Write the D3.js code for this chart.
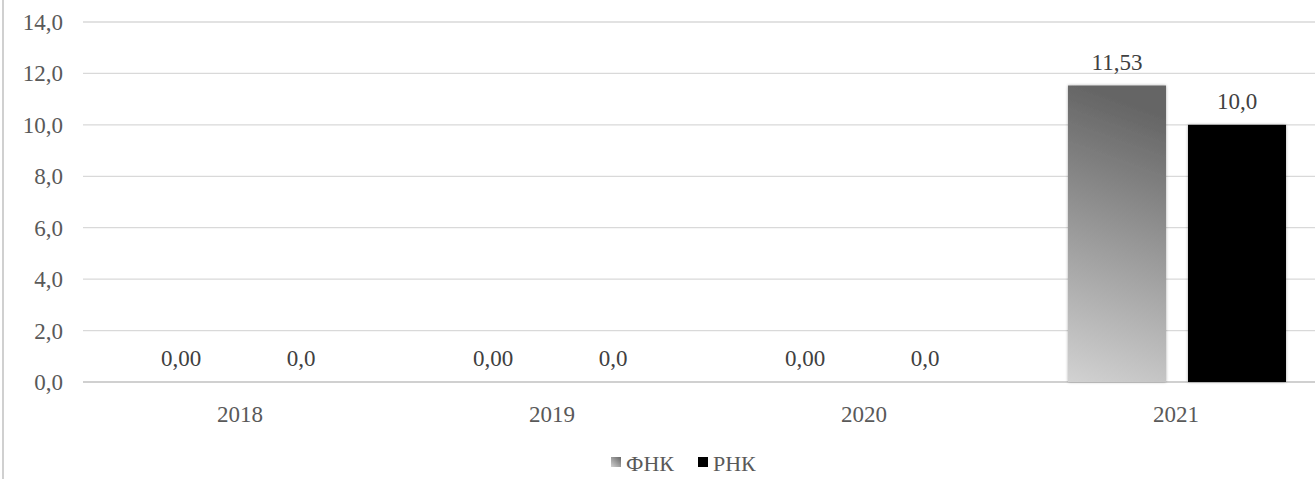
<!DOCTYPE html>
<html><head><meta charset="utf-8">
<script src="https://cdn.jsdelivr.net/npm/d3@7"></script>
<style>body{margin:0;background:#fff}svg{display:block}</style>
</head><body>
<svg id="c" width="1315" height="479"></svg>
<script>
const categories = ["2018","2019","2020","2021"];
const seriesNames = ["ФНК","РНК"];
const fnk = [0.00, 0.00, 0.00, 11.53];
const rnk = [0.0, 0.0, 0.0, 10.0];
const yTicks = [0,2,4,6,8,10,12,14];

const svg = d3.select("#c");
const font = "Liberation Serif, DejaVu Serif, serif";
const fs = 23;
const x = d3.scaleBand().domain(categories).range([84,1332]);
const y = d3.scaleLinear().domain([0,14]).range([382,22]);

const defs = svg.append("defs");
const g1 = defs.append("linearGradient").attr("id","gf").attr("x1","0").attr("y1","1").attr("x2","0.12").attr("y2","0");
g1.append("stop").attr("offset","0").attr("stop-color","#d2d2d2");
g1.append("stop").attr("offset","1").attr("stop-color","#656565");
const gl = defs.append("linearGradient").attr("id","gl").attr("x1","0").attr("y1","1").attr("x2","1").attr("y2","0");
gl.append("stop").attr("offset","0").attr("stop-color","#d2d2d2");
gl.append("stop").attr("offset","1").attr("stop-color","#666666");
const f = defs.append("filter").attr("id","sh").attr("x","-10%").attr("y","-10%").attr("width","120%").attr("height","120%");
f.append("feGaussianBlur").attr("in","SourceAlpha").attr("stdDeviation","1.5").attr("result","b");
f.append("feComponentTransfer").attr("in","b").attr("result","o2").append("feFuncA").attr("type","linear").attr("slope","0.35");
const m = f.append("feMerge"); m.append("feMergeNode").attr("in","o2"); m.append("feMergeNode").attr("in","SourceGraphic");

// left border
svg.append("line").attr("x1",3).attr("x2",3).attr("y1",0).attr("y2",479).attr("stroke","#d0d0d0").attr("stroke-width",2);

// grid
svg.append("g").selectAll("line").data(yTicks).join("line")
  .attr("x1",83).attr("x2",1315).attr("y1",d=>y(d)).attr("y2",d=>y(d))
  .attr("stroke",d=>d===0?"#d0d0d0":"#d9d9d9").attr("stroke-width",d=>d===0?2:1.3);

// y tick labels
svg.append("g").selectAll("text").data(yTicks).join("text")
  .attr("x",63).attr("y",d=>y(d)).attr("dy","0.35em").attr("text-anchor","end")
  .attr("font-family",font).attr("font-size",fs).attr("fill","#595959")
  .text(d=>d.toFixed(1).replace(".",","));

// x labels
svg.append("g").selectAll("text").data(categories).join("text")
  .attr("x",d=>x(d)+x.bandwidth()/2).attr("y",414).attr("dy","0.35em").attr("text-anchor","middle")
  .attr("font-family",font).attr("font-size",fs).attr("fill","#595959").text(d=>d);

const bw = 98, off = [-59, 61];
const series = [
  {name:seriesNames[0], vals:fnk, fill:"url(#gf)", dec:2},
  {name:seriesNames[1], vals:rnk, fill:"#000", dec:1}
];
series.forEach((s,si)=>{
  const gs = svg.append("g");
  gs.selectAll("rect").data(categories).join("rect")
    .attr("x",(c)=>x(c)+x.bandwidth()/2+off[si]-bw/2)
    .attr("y",(c,i)=>y(s.vals[i])).attr("width",bw)
    .attr("height",(c,i)=>y(0)-y(s.vals[i])).attr("fill",s.fill)
    .attr("filter","url(#sh)");
  gs.selectAll("text").data(categories).join("text")
    .attr("x",(c,i)=>x(c)+x.bandwidth()/2+off[si])
    .attr("y",(c,i)=>y(s.vals[i])-24).attr("dy","0.35em").attr("text-anchor","middle")
    .attr("font-family",font).attr("font-size",fs).attr("fill","#404040")
    .text((c,i)=>s.vals[i].toFixed(s.dec).replace(".",","));
});

// legend
const leg = svg.append("g");
const items = [{n:seriesNames[0],fill:"url(#gl)",x:611},{n:seriesNames[1],fill:"#000",x:698}];
items.forEach(it=>{
  leg.append("rect").attr("x",it.x).attr("y",457).attr("width",10).attr("height",10).attr("fill",it.fill);
  leg.append("text").attr("x",it.x+15).attr("y",463).attr("dy","0.35em")
    .attr("font-family",font).attr("font-size",fs-1).attr("fill","#595959").text(it.n);
});
</script>
</body></html>
